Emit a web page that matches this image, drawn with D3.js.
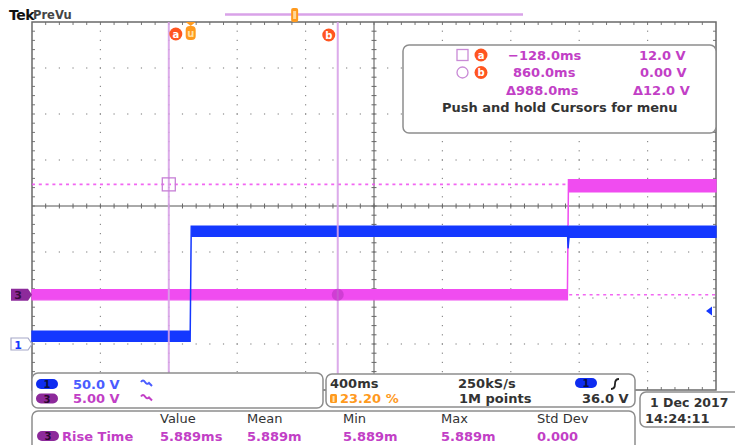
<!DOCTYPE html>
<html><head><meta charset="utf-8">
<script src="https://cdn.jsdelivr.net/npm/d3@7"></script>
<style>
body{margin:0;background:#fff}
svg{display:block}
text{font-family:"DejaVu Sans",sans-serif;font-weight:bold;font-size:13px;white-space:pre}
</style>
</head><body>
<svg id="c" width="735" height="445"></svg>
<script>
// ---------------- data ----------------
const timeDomainMs = [-928, 3072];      // 400 ms/div, trigger position 23.20 %
const divDomain = [-4, 4];              // 8 vertical divisions
const hDivs = 10, vDivs = 8, minorPerDiv = 5;

const ch1Scale = 50.0, ch1Pos = -3.0;   // V/div, divisions
const ch3Scale = 5.00, ch3Pos = -1.93;
const triggerLevel = 36.0;              // V on ch1

// Channel 1 (blue) envelope, time in ms, volts
const ch1Time  = [-928, -3, 3, 2200, 2204, 2207, 2213, 3072];
const ch1Upper = [14, 14, 128, 128, 128, 126, 128, 128];
const ch1Lower = [3, 3, 117, 117, 117, 104, 116, 116];

// Channel 3 (magenta) envelope
const ch3Time  = [-928, 2203, 2209, 3072];
const ch3Upper = [0.55, 0.55, 12.5, 12.5];
const ch3Lower = [-0.55, -0.55, 11.2, 11.2];

// Cursors
const cursorTimes = [-128.0, 860.0];
const cursorVolts = [12.0, 0.00];
const cursorNames = ["a", "b"];
const readTimes = ["\u2212128.0ms", "860.0ms", "\u0394988.0ms"];
const readVolts = ["12.0 V", "0.00 V", "\u039412.0 V"];
const readHint = "Push and hold Cursors for menu";

// Bottom panels
const chanLabels = ["1", "3"];
const chanScales = ["50.0 V", "5.00 V"];
const horizTexts = ["400ms", "250kS/s", "23.20 %", "1M points", "36.0 V"];
const dateTexts = ["1 Dec 2017", "14:24:11"];
const measHeaders = ["Value", "Mean", "Min", "Max", "Std Dev"];
const measValues = ["5.889ms", "5.889m", "5.889m", "5.889m", "0.000"];
const measName = "Rise Time";

// ---------------- colours ----------------
const C = {
  blue: "#1438ff", mag: "#f04cf0", cursor: "#d9a2e8", magText: "#c23fc6",
  blueText: "#4a5cff", orange: "#ff9a1e", red: "#ff5520", grid: "#8c8c8c",
  border: "#6a6a6a", panel: "#8d8d8d", pillBlue: "#0e2cf0", pillPurple: "#8d2a9b"
};

// ---------------- layout ----------------
const svg = d3.select("#c");
const L = 32, R = 716, T = 22, B = 390;
const x = d3.scaleLinear().domain(timeDomainMs).range([L, R]);
const yd = d3.scaleLinear().domain(divDomain).range([B, T]);
const y1 = v => yd(v / ch1Scale + ch1Pos);
const y3 = v => yd(v / ch3Scale + ch3Pos);
const dx = (R - L) / hDivs, dy = (B - T) / vDivs;

// ---------------- graticule ----------------
const g = svg.append("g");
const xc = (L + R) / 2, yc = (T + B) / 2;
for (let i = 1; i < hDivs; i++) {
  if (i === hDivs / 2) continue;
  const xx = L + i * dx;
  for (let j = 1; j < vDivs * minorPerDiv; j++) {
    g.append("rect").attr("x", xx - 0.6).attr("y", T + j * dy / minorPerDiv - 0.6)
      .attr("width", 1.2).attr("height", 1.2).attr("fill", C.grid);
  }
}
for (let k = 1; k < vDivs; k++) {
  if (k === vDivs / 2) continue;
  const yy = T + k * dy;
  for (let j = 1; j < hDivs * minorPerDiv; j++) {
    g.append("rect").attr("x", L + j * dx / minorPerDiv - 0.6).attr("y", yy - 0.6)
      .attr("width", 1.2).attr("height", 1.2).attr("fill", C.grid);
  }
}
g.append("line").attr("x1", L).attr("x2", R).attr("y1", yc).attr("y2", yc).attr("stroke", "#555").attr("stroke-width", 1);
g.append("line").attr("x1", xc).attr("x2", xc).attr("y1", T).attr("y2", B).attr("stroke", "#555").attr("stroke-width", 1);
for (let j = 1; j < hDivs * minorPerDiv; j++) {
  const xx = L + j * dx / minorPerDiv;
  g.append("line").attr("x1", xx).attr("x2", xx).attr("y1", yc - 2.5).attr("y2", yc + 2.5).attr("stroke", "#666");
  g.append("line").attr("x1", xx).attr("x2", xx).attr("y1", T).attr("y2", T + 3).attr("stroke", "#777");
  g.append("line").attr("x1", xx).attr("x2", xx).attr("y1", B).attr("y2", B - 3).attr("stroke", "#777");
}
for (let j = 1; j < vDivs * minorPerDiv; j++) {
  const yy = T + j * dy / minorPerDiv;
  g.append("line").attr("x1", xc - 2.5).attr("x2", xc + 2.5).attr("y1", yy).attr("y2", yy).attr("stroke", "#666");
  g.append("line").attr("x1", L).attr("x2", L + 3).attr("y1", yy).attr("y2", yy).attr("stroke", "#777");
  g.append("line").attr("x1", R).attr("x2", R - 3).attr("y1", yy).attr("y2", yy).attr("stroke", "#777");
}
g.append("rect").attr("x", L).attr("y", T).attr("width", R - L).attr("height", B - T)
  .attr("fill", "none").attr("stroke", C.border).attr("stroke-width", 1.5);

// ---------------- cursor horizontal bars ----------------
cursorVolts.forEach(v => {
  svg.append("line").attr("x1", L).attr("x2", R).attr("y1", y3(v)).attr("y2", y3(v))
    .attr("stroke", C.mag).attr("stroke-width", 1.6).attr("stroke-dasharray", "3,3.8").attr("opacity", 0.85);
});

// ---------------- traces ----------------
function drawTrace(times, up, lo, ys, col) {
  const pts = times.map((t, i) => ({t, u: up[i], l: lo[i]}));
  const area = d3.area().x(d => x(d.t)).y0(d => ys(d.l)).y1(d => ys(d.u));
  svg.append("path").attr("d", area(pts)).attr("fill", col).attr("stroke", col).attr("stroke-width", 1.4);
}
drawTrace(ch3Time, ch3Upper, ch3Lower, y3, C.mag);
drawTrace(ch1Time, ch1Upper, ch1Lower, y1, C.blue);

// ---------------- cursor vertical bars ----------------
cursorTimes.forEach(t => {
  svg.append("line").attr("x1", x(t)).attr("x2", x(t)).attr("y1", T).attr("y2", B)
    .attr("stroke", C.cursor).attr("stroke-width", 2).attr("opacity", 0.9);
});
svg.append("rect").attr("x", x(cursorTimes[0]) - 6.5).attr("y", y3(cursorVolts[0]) - 6.5)
  .attr("width", 13).attr("height", 13).attr("fill", "none").attr("stroke", "#c77fd6").attr("stroke-width", 1.3);
svg.append("circle").attr("cx", x(cursorTimes[1])).attr("cy", y3(cursorVolts[1])).attr("r", 6)
  .attr("fill", "#c238c8").attr("opacity", 0.7);

function orangeBadge(cx, cy, txt, r) {
  svg.append("circle").attr("cx", cx).attr("cy", cy).attr("r", r).attr("fill", C.red);
  svg.append("text").attr("x", cx).attr("y", cy + 3.5).attr("text-anchor", "middle")
    .style("font-size", "10px").attr("fill", "#fff").text(txt);
}
orangeBadge(x(cursorTimes[0]) + 7, 34, cursorNames[0], 6.5);
orangeBadge(x(cursorTimes[1]) - 9, 35, cursorNames[1], 6.5);
const tx = x(0);
svg.append("path").attr("d", `M${tx - 5},${T} L${tx + 5},${T} L${tx},${T + 4} Z`).attr("fill", C.orange);
svg.append("rect").attr("x", tx - 5).attr("y", T + 4).attr("width", 10).attr("height", 14).attr("rx", 4).attr("fill", C.orange);
svg.append("text").attr("x", tx).attr("y", T + 15).attr("text-anchor", "middle").style("font-size", "10px").attr("fill", "#ffe0a0").text("u");

// header
svg.append("text").attr("x", 9).attr("y", 20).style("font-size", "14px").attr("fill", "#111").attr("letter-spacing", "-0.5").text("Tek");
svg.append("text").attr("x", 33).attr("y", 19).style("font-size", "11.5px").attr("fill", "#444").text("PreVu");
svg.append("line").attr("x1", 225).attr("x2", 523).attr("y1", 14.5).attr("y2", 14.5).attr("stroke", C.cursor).attr("stroke-width", 2.5);
const rvx = 225 + (523 - 225) * 0.232;
svg.append("rect").attr("x", rvx - 3).attr("y", 8).attr("width", 7).attr("height", 14).attr("rx", 2).attr("fill", C.orange);
svg.append("rect").attr("x", rvx - 1).attr("y", 11).attr("width", 3).attr("height", 8).attr("fill", "#ffd79a");

// left channel markers
svg.append("path").attr("d", `M11,${y3(0) - 6} L28,${y3(0) - 6} L32,${y3(0)} L28,${y3(0) + 6} L11,${y3(0) + 6} Z`).attr("fill", C.pillPurple);
svg.append("text").attr("x", 18).attr("y", y3(0) + 4.5).attr("text-anchor", "middle").style("font-size", "11px").attr("fill", "#3a0a40").text("3");
svg.append("path").attr("d", `M11,${y1(0) - 6} L28,${y1(0) - 6} L32,${y1(0)} L28,${y1(0) + 6} L11,${y1(0) + 6} Z`).attr("fill", "#fff").attr("stroke", "#a6a8c8").attr("stroke-width", 1.2);
svg.append("text").attr("x", 18).attr("y", y1(0) + 4.5).attr("text-anchor", "middle").style("font-size", "11px").attr("fill", C.blue).text("1");
const ty = y1(triggerLevel);
svg.append("path").attr("d", `M${R - 10},${ty} L${R - 4},${ty - 4.5} L${R - 4},${ty + 4.5} Z`).attr("fill", C.blue);

// ---------------- cursor readout box ----------------
svg.append("rect").attr("x", 403).attr("y", 45).attr("width", 313).attr("height", 88).attr("rx", 6)
  .attr("fill", "#fff").attr("stroke", C.panel).attr("stroke-width", 1.5);
const rowY = [59.5, 77, 95];
svg.append("rect").attr("x", 457).attr("y", 49.5).attr("width", 11).attr("height", 11).attr("fill", "none").attr("stroke", "#c98ad6").attr("stroke-width", 1.3);
svg.append("circle").attr("cx", 462.5).attr("cy", 72.5).attr("r", 5.5).attr("fill", "none").attr("stroke", "#c98ad6").attr("stroke-width", 1.3);
orangeBadge(481, 55, cursorNames[0], 6.5);
orangeBadge(481, 72.5, cursorNames[1], 6.5);
const rtX = [508, 513, 506], rvX = [639, 640, 633];
readTimes.forEach((s, i) => svg.append("text").attr("x", rtX[i]).attr("y", rowY[i]).attr("fill", C.magText).text(s));
readVolts.forEach((s, i) => svg.append("text").attr("x", rvX[i]).attr("y", rowY[i]).attr("fill", C.magText).text(s));
svg.append("text").attr("x", 442).attr("y", 111.5).attr("fill", "#333").text(readHint);

// ---------------- bottom panels ----------------
function panel(x0, y0, w, h) {
  svg.append("rect").attr("x", x0).attr("y", y0).attr("width", w).attr("height", h).attr("rx", 6)
    .attr("fill", "#fff").attr("stroke", C.panel).attr("stroke-width", 1.5);
}
function pill(cx, cy, fill, txt, tcol) {
  svg.append("rect").attr("x", cx - 11).attr("y", cy - 5).attr("width", 22).attr("height", 10).attr("rx", 5).attr("fill", fill);
  svg.append("text").attr("x", cx).attr("y", cy + 4).attr("text-anchor", "middle").style("font-size", "10px").attr("fill", tcol).text(txt);
}
function bwIcon(x0, y0, col) {
  svg.append("path").attr("d", `M${x0},${y0 - 3} q2,-3 4,0 q2,3 4,1 l3,3`).attr("fill", "none").attr("stroke", col).attr("stroke-width", 2);
}
panel(32, 373, 291, 35);
pill(47, 384, C.pillBlue, chanLabels[0], "#0a1040");
pill(47, 398.5, C.pillPurple, chanLabels[1], "#2a0830");
svg.append("text").attr("x", 73).attr("y", 388.5).attr("fill", C.blueText).text(chanScales[0]);
svg.append("text").attr("x", 73).attr("y", 403).attr("fill", C.magText).text(chanScales[1]);
bwIcon(141, 385, C.blueText);
bwIcon(141, 399.5, C.magText);

panel(326, 374, 309, 33);
svg.append("text").attr("x", 330).attr("y", 387.5).attr("fill", "#333").text(horizTexts[0]);
svg.append("text").attr("x", 458).attr("y", 387.5).attr("fill", "#333").text(horizTexts[1]);
svg.append("rect").attr("x", 330).attr("y", 394).attr("width", 7).attr("height", 9).attr("rx", 1.5).attr("fill", C.orange);
svg.append("rect").attr("x", 332.5).attr("y", 396).attr("width", 2).attr("height", 6).attr("fill", "#ffe2b0");
svg.append("text").attr("x", 340).attr("y", 402.5).attr("fill", C.orange).text(horizTexts[2]);
svg.append("text").attr("x", 459).attr("y", 402.5).attr("fill", "#333").text(horizTexts[3]);
svg.append("text").attr("x", 582).attr("y", 402.5).attr("fill", "#333").text(horizTexts[4]);
pill(586, 383, C.pillBlue, chanLabels[0], "#0a1040");
svg.append("path").attr("d", "M611,389 q4,0 4,-5 q0,-5 4,-5").attr("fill", "none").attr("stroke", "#222").attr("stroke-width", 1.8);

panel(640, 392, 110, 35);
svg.append("text").attr("x", 650).attr("y", 406.5).attr("fill", "#333").style("font-size", "12.5px").text(dateTexts[0]);
svg.append("text").attr("x", 645).attr("y", 422.5).attr("fill", "#333").text(dateTexts[1]);

panel(32, 411, 603, 45);
const mX = [160, 247, 343, 441, 537];
measHeaders.forEach((s, i) => svg.append("text").attr("x", mX[i]).attr("y", 422.5).attr("fill", "#333").style("font-weight", "normal").text(s));
measValues.forEach((s, i) => svg.append("text").attr("x", mX[i]).attr("y", 440.5).attr("fill", C.magText).text(s));
pill(48, 436, C.pillPurple, chanLabels[1], "#2a0830");
svg.append("text").attr("x", 62).attr("y", 440.5).attr("fill", C.magText).text(measName);
</script>
</body></html>
